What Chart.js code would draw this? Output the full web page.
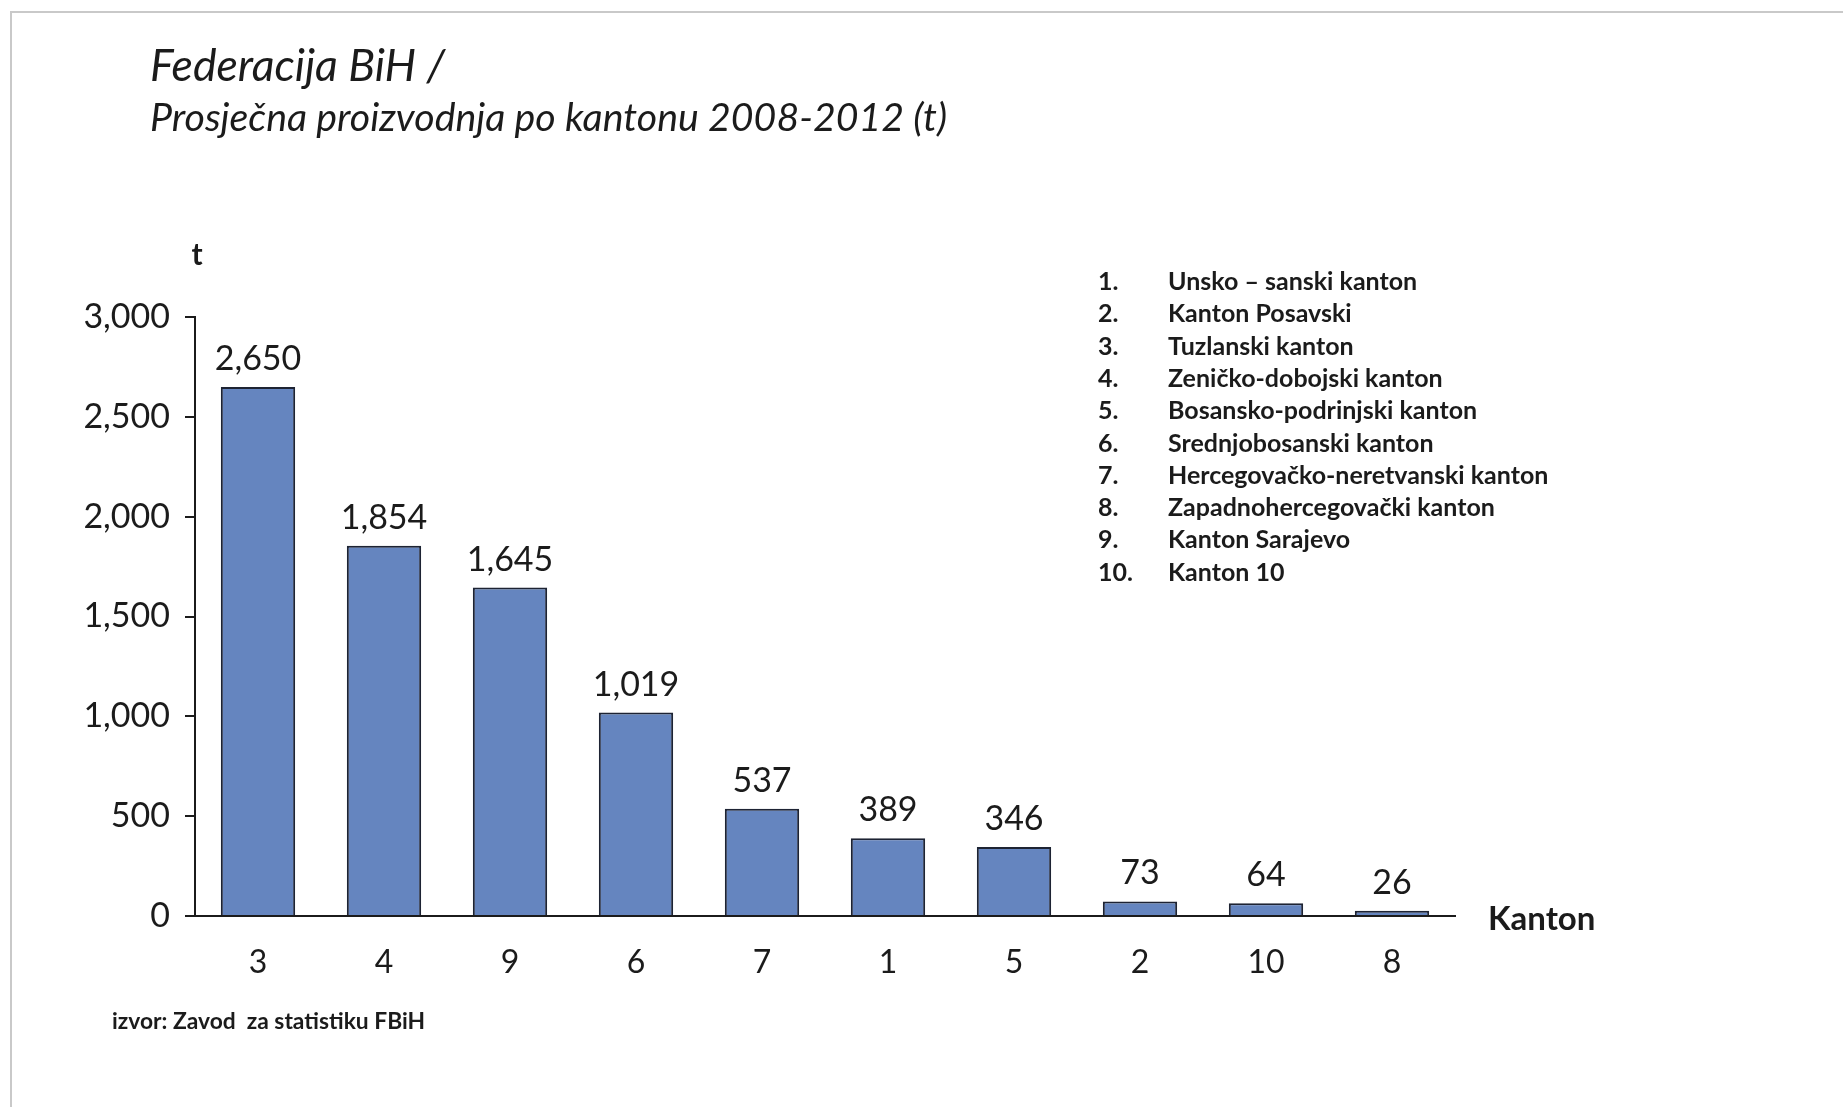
<!DOCTYPE html>
<html>
<head>
<meta charset="utf-8">
<script src="https://cdn.jsdelivr.net/npm/chart.js@4.4.1/dist/chart.umd.min.js"></script>
<style>
  html, body { margin: 0; padding: 0; background: #ffffff; }
  #wrap { width: 1843px; height: 1107px; position: relative; }
</style>
</head>
<body>
<div id="wrap"><canvas id="c" width="1843" height="1107"></canvas></div>
<script>
// ---- data ----
const categories = ['3', '4', '9', '6', '7', '1', '5', '2', '10', '8'];
const production = [2650, 1854, 1645, 1019, 537, 389, 346, 73, 64, 26];
const yTicks = [0, 500, 1000, 1500, 2000, 2500, 3000];
const legendNums = ['1.', '2.', '3.', '4.', '5.', '6.', '7.', '8.', '9.', '10.'];
const legendNames = ['Unsko – sanski kanton', 'Kanton Posavski', 'Tuzlanski kanton',
  'Zeničko-dobojski kanton', 'Bosansko-podrinjski kanton', 'Srednjobosanski kanton',
  'Hercegovačko-neretvanski kanton', 'Zapadnohercegovački kanton', 'Kanton Sarajevo', 'Kanton 10'];
const titleText = 'Federacija BiH /';
const subtitleText = 'Prosječna proizvodnja po kantonu 2008-2012 (t)';
const yAxisTitle = 't';
const xAxisTitle = 'Kanton';
const sourceText = 'izvor: Zavod  za statistiku FBiH';

const fmt = v => Number(v).toLocaleString('en-US');
const TXT = '#1b1b1b';

const decor = {
  id: 'decor',
  beforeDraw(chart) {
    const ctx = chart.ctx;
    ctx.save();
    ctx.fillStyle = '#ffffff';
    ctx.fillRect(0, 0, chart.width, chart.height);
    // frame
    ctx.strokeStyle = '#c9c9c9';
    ctx.lineWidth = 2;
    ctx.beginPath();
    ctx.moveTo(11, chart.height);
    ctx.lineTo(11, 12);
    ctx.lineTo(chart.width, 12);
    ctx.stroke();
    ctx.restore();
  },
  afterDraw(chart) {
    const ctx = chart.ctx;
    const area = chart.chartArea;
    ctx.save();
    ctx.fillStyle = TXT;
    ctx.textBaseline = 'alphabetic';
    ctx.textAlign = 'left';
    // titles
    ctx.font = 'italic 44.5px Lato';
    ctx.fillText(titleText, 150, 81);
    ctx.font = 'italic 39.3px Lato';
    ctx.fillText(subtitleText, 150, 131);
    // axis titles
    ctx.font = 'bold 30px Lato';
    ctx.textAlign = 'center';
    ctx.textBaseline = 'middle';
    ctx.fillText(yAxisTitle, area.left + 2, 255);
    ctx.font = 'bold 33px Lato';
    ctx.textAlign = 'left';
    ctx.fillText(xAxisTitle, area.right + 33, area.bottom + 3);
    // value labels
    const meta = chart.getDatasetMeta(0);
    ctx.font = '34px Lato';
    ctx.textAlign = 'center';
    ctx.textBaseline = 'alphabetic';
    meta.data.forEach((bar, i) => {
      ctx.fillText(fmt(production[i]), bar.x, bar.y - 17);
    });
    // legend list
    ctx.font = 'bold 25px Lato';
    ctx.textBaseline = 'middle';
    ctx.textAlign = 'left';
    legendNums.forEach((n, i) => {
      const y = 282 + i * 32.3;
      ctx.fillText(n, 1098, y);
      ctx.fillText(legendNames[i], 1168, y);
    });
    // source
    ctx.font = 'bold 22.8px Lato';
    ctx.fillText(sourceText, 112, 1022);
    ctx.restore();
  }
};

new Chart(document.getElementById('c'), {
  type: 'bar',
  data: {
    labels: categories,
    datasets: [{
      data: production,
      backgroundColor: '#6585bf',
      borderColor: '#1d2333',
      borderWidth: 2,
      barPercentage: 0.59,
      categoryPercentage: 1.0
    }]
  },
  options: {
    responsive: false,
    animation: false,
    events: [],
    layout: { padding: { left: 0, top: 317, right: 388, bottom: 111 } },
    plugins: { legend: { display: false }, tooltip: { enabled: false }, title: { display: false } },
    scales: {
      x: {
        grid: { display: false },
        border: { display: true, color: '#1b1b1b', width: 2 },
        ticks: { color: TXT, font: { family: 'Lato', size: 32 }, padding: 19, maxRotation: 0 },
        afterFit(scale) { scale.height = 80; }
      },
      y: {
        min: 0, max: 3000,
        afterBuildTicks(scale) { scale.ticks = yTicks.map(v => ({ value: v })); },
        grid: { drawOnChartArea: false, drawTicks: true, tickLength: 10, color: '#1b1b1b', lineWidth: 2 },
        border: { display: true, color: '#1b1b1b', width: 2 },
        ticks: { color: TXT, font: { family: 'Lato', size: 34 }, padding: 15, callback: v => fmt(v) },
        afterFit(scale) { scale.width = 195; }
      }
    }
  },
  plugins: [decor]
});
</script>
</body>
</html>
